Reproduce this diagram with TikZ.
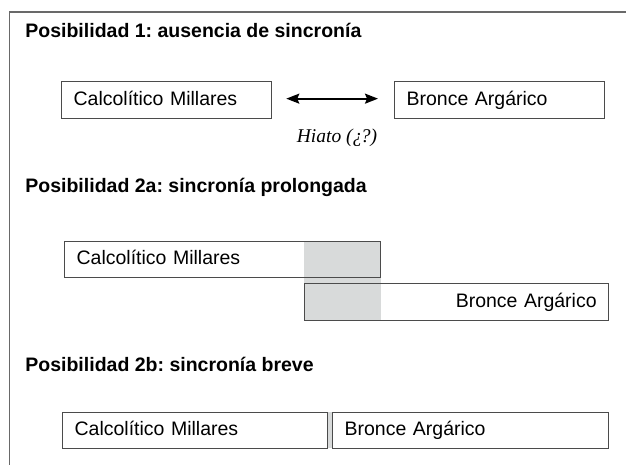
\documentclass[tikz,border=0pt]{standalone}
\usepackage{fontspec}
\setmainfont{Liberation Sans}
\newfontfamily\hiatofont{Liberation Serif}
\usetikzlibrary{arrows.meta,positioning}
\definecolor{frameline}{RGB}{105,105,105}
\definecolor{boxline}{RGB}{75,75,75}
\definecolor{overlapgray}{RGB}{216,218,218}
\frenchspacing

\begin{document}
\begin{tikzpicture}[x=1pt,y=-1pt,thick,
    title node/.style={anchor=base west,inner sep=0pt,font=\fontsize{19.5}{23}\selectfont\bfseries},
    period node/.style={draw=boxline,line width=1.3pt,inner xsep=12pt,inner ysep=0pt,minimum height=37pt,
        text height=14pt,text depth=4pt,anchor=north west,font=\fontsize{19.5}{23}\selectfont},
    hiato node/.style={inner sep=0pt,font=\fontsize{19.5}{23}\hiatofont\itshape}]
    \useasboundingbox (0,0) rectangle (626,465);
    % outer frame
    \draw[frameline,line width=1.2pt] (626,12) -- (9.5,12) -- (9.5,465);

    % Posibilidad 1
    \node[title node] (t1) at (25,38) {Posibilidad 1: ausencia de sincronía};
    \node[period node,text width=186pt,align=left] (calco1) at (61,81) {Calcolítico Millares};
    \node[period node,text width=186pt,align=left] (bronce1) at (394,81) {Bronce Argárico};
    \draw[{Stealth[length=13pt,width=10pt,inset=2pt]}-{Stealth[length=13pt,width=10pt,inset=2pt]},line width=1.8pt,black]
        ([xshift=14pt,yshift=1.5pt]calco1.east) -- ([xshift=-16pt,yshift=1.5pt]bronce1.west);
    \node[hiato node] (hiato) at (337,138) {Hiato (¿\kern-1.5pt?)};

    % Posibilidad 2a
    \node[title node] (t2) at (25,193) {Posibilidad 2a: sincronía prolongada};
    \fill[overlapgray] (304,241) rectangle (381,320);
    \node[period node,minimum height=36pt,text width=292pt,align=left] (calco2) at (64,241) {Calcolítico Millares};
    \node[period node,text width=280pt,align=right] (bronce2) at (304,283) {Bronce Argárico};

    % Posibilidad 2b
    \node[title node] (t3) at (25,371) {Posibilidad 2b: sincronía breve};
    \fill[overlapgray] (327,412) rectangle (333,448);
    \node[period node,minimum height=36pt,text width=241pt,align=left] (calco3) at (62,412) {Calcolítico Millares};
    \node[period node,minimum height=36pt,text width=252pt,align=left] (bronce3) at (332,412) {Bronce Argárico};
\end{tikzpicture}
\end{document}
